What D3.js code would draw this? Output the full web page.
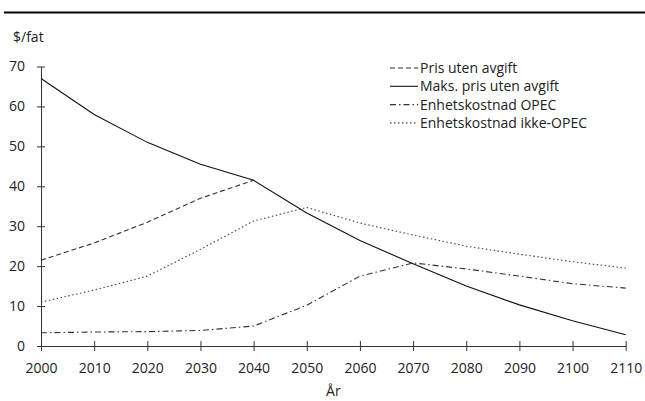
<!DOCTYPE html>
<html>
<head>
<meta charset="utf-8">
<script src="https://cdn.jsdelivr.net/npm/d3@7"></script>
<style>
  html, body { margin: 0; padding: 0; background: #fff; }
  svg text { font-family: "Open Sans", "Noto Sans", sans-serif; fill: #222; }
</style>
</head>
<body>
<svg id="chart" width="645" height="401"></svg>
<script>
// Years on the horizontal axis
const years = [2000, 2010, 2020, 2030, 2040, 2050, 2060, 2070, 2080, 2090, 2100, 2110];

// Price paths, $/fat
const prisUtenAvgift   = [21.5, 25.8, 31.0, 37.0, 41.5];
const maksPris         = [67.0, 58.0, 51.0, 45.5, 41.5, 33.3, 26.4, 20.6, 15.0, 10.3, 6.3, 2.8];
const enhetOPEC        = [3.3, 3.5, 3.6, 3.9, 5.0, 10.2, 17.5, 20.8, 19.3, 17.5, 15.6, 14.5];
const enhetIkkeOPEC    = [11.0, 14.0, 17.5, 24.2, 31.3, 34.7, 30.8, 27.8, 25.0, 23.0, 21.1, 19.5];

const yTicks = [0, 10, 20, 30, 40, 50, 60, 70];
const xTicks = years;

const series = [
  { name: "Pris uten avgift",           values: prisUtenAvgift, dash: "5,3",       color: "#333" },
  { name: "Maks. pris uten avgift",     values: maksPris,       dash: null,        color: "#111" },
  { name: "Enhetskostnad OPEC",         values: enhetOPEC,      dash: "6,3,1.5,3", color: "#333" },
  { name: "Enhetskostnad ikke-OPEC",    values: enhetIkkeOPEC,  dash: "1.5,2.5",   color: "#444" }
];

const svg = d3.select("#chart");
const plotLeft = 41, plotRight = 625.7, plotTop = 66.5, plotBottom = 346;
const fontSize = 14;

const x = d3.scaleLinear().domain([2000, 2110]).range([plotLeft, plotRight]);
const y = d3.scaleLinear().domain([0, 70]).range([plotBottom, plotTop]);

// Rule across the top
svg.append("line")
  .attr("x1", 4).attr("x2", 645).attr("y1", 12.5).attr("y2", 12.5)
  .attr("stroke", "#000").attr("stroke-width", 2);

// Y axis
const yAxis = svg.append("g")
  .attr("transform", `translate(${plotLeft},0)`)
  .call(d3.axisLeft(y).tickValues(yTicks).tickSize(0).tickPadding(16));
yAxis.select(".domain").attr("stroke", "#333");
yAxis.selectAll(".tick line").remove();
yAxis.selectAll(".tick").append("line")
  .attr("x1", -4).attr("x2", 4).attr("stroke", "#333");
yAxis.selectAll(".tick text").attr("font-size", fontSize).attr("fill", "#222");

// X axis
const xAxis = svg.append("g")
  .attr("transform", `translate(0,${plotBottom})`)
  .call(d3.axisBottom(x).tickValues(xTicks).tickFormat(d3.format("d")).tickSize(0).tickPadding(17));
xAxis.select(".domain").attr("stroke", "#333");
xAxis.selectAll(".tick line").remove();
xAxis.selectAll(".tick").append("line")
  .attr("y1", -5).attr("y2", 5).attr("stroke", "#333");
xAxis.selectAll(".tick text").attr("font-size", fontSize).attr("fill", "#222");

// Axis titles
svg.append("text").attr("x", 13).attr("y", 42).attr("font-size", fontSize).text("$/fat");
svg.append("text").attr("x", (plotLeft + plotRight) / 2).attr("y", 396)
  .attr("text-anchor", "middle").attr("font-size", fontSize).text("År");

// Lines
const line = d3.line()
  .x((d, i) => x(years[i]))
  .y(d => y(d));

svg.append("g").selectAll("path")
  .data(series)
  .join("path")
  .attr("d", d => line(d.values))
  .attr("fill", "none")
  .attr("stroke", d => d.color)
  .attr("stroke-width", 1.1)
  .attr("stroke-dasharray", d => d.dash);

// Legend
const legend = svg.append("g").attr("transform", "translate(390,68)");
const rows = legend.selectAll("g")
  .data(series)
  .join("g")
  .attr("transform", (d, i) => `translate(0,${i * 18.3})`);
rows.append("line")
  .attr("x1", 0).attr("x2", 28)
  .attr("stroke", d => d.color)
  .attr("stroke-width", 1.1)
  .attr("stroke-dasharray", d => d.dash);
rows.append("text")
  .attr("x", 30).attr("dy", "0.35em")
  .attr("font-size", fontSize)
  .text(d => d.name);
</script>
</body>
</html>
